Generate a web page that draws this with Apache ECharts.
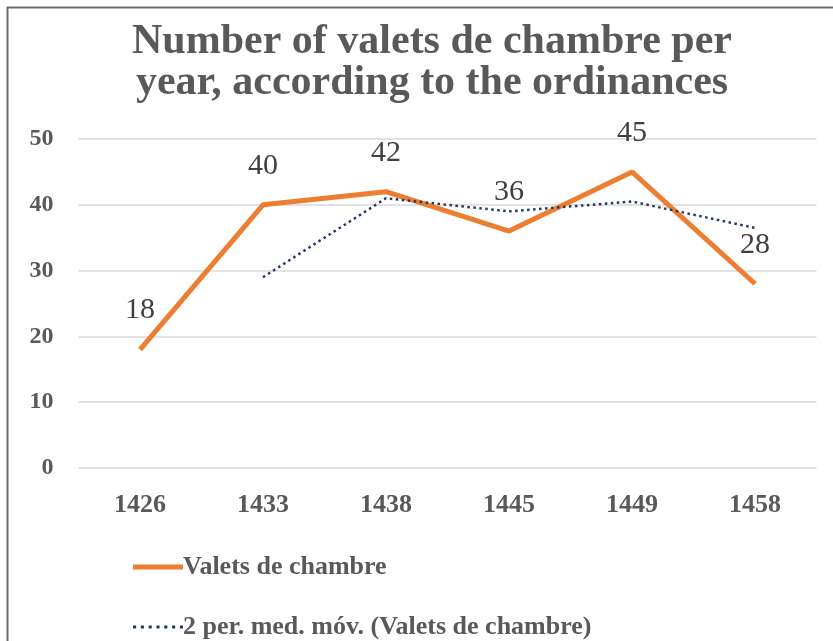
<!DOCTYPE html>
<html>
<head>
<meta charset="utf-8">
<script src="https://cdn.jsdelivr.net/npm/echarts@6/dist/echarts.min.js"></script>
<style>html,body{margin:0;padding:0;background:#fff}#c{width:833px;height:641px}</style>
</head>
<body>
<div id="c"></div>
<script>
const years = ['1426', '1433', '1438', '1445', '1449', '1458'];
const valets = [18, 40, 42, 36, 45, 28];
const movingAvg = [null, 29, 41, 39, 40.5, 36.5];
const yTicks = [0, 10, 20, 30, 40, 50];

const serif = '"Liberation Serif", "DejaVu Serif", serif';
let dots = '';
for (let i = 0; i < 7; i++) dots += 'M' + (i * 7.5) + ',0h3v3h-3z ';
const legendBase = {
  left: 133,
  padding: 0,
  itemWidth: 50,
  itemHeight: 20,
  textStyle: {fontFamily: serif, fontWeight: 'bold', fontSize: 26, lineHeight: 26, color: '#595959', padding: [0, 0, 0, -5]}
};
const chart = echarts.init(document.getElementById('c'));
chart.setOption({
  animation: false,
  backgroundColor: '#fff',
  title: {
    text: 'Number of valets de chambre per\nyear, according to the ordinances',
    left: 427,
    textAlign: 'center',
    top: 17,
    textStyle: {fontFamily: serif, fontWeight: 'bold', fontSize: 42, color: '#595959', lineHeight: 41}
  },
  graphic: [
    {type: 'line', shape: {x1: 7, y1: 7.5, x2: 833, y2: 7.5}, style: {stroke: '#6b6b6b', lineWidth: 2}},
    {type: 'line', shape: {x1: 7.5, y1: 7, x2: 7.5, y2: 641}, style: {stroke: '#6b6b6b', lineWidth: 2}}
  ],
  legend: [
    Object.assign({}, legendBase, {
      top: 554,
      data: [{name: 'Valets de chambre', icon: 'path://M0,0h50v5h-50z', itemStyle: {color: '#ED7D31'}}]
    }),
    Object.assign({}, legendBase, {
      top: 614,
      data: [{name: '2 per. med. móv. (Valets de chambre)', icon: 'path://' + dots, itemStyle: {color: '#203864'}}]
    })
  ],
  grid: {left: 78.5, right: 16.5, top: 139, bottom: 173, containLabel: false},
  xAxis: {
    type: 'category',
    data: years,
    boundaryGap: true,
    axisLine: {show: false},
    axisTick: {show: false},
    axisLabel: {fontFamily: serif, fontWeight: 'bold', fontSize: 26, color: '#595959', margin: 24}
  },
  yAxis: {
    type: 'value',
    min: yTicks[0],
    max: yTicks[yTicks.length - 1],
    interval: 10,
    axisLine: {show: false},
    axisTick: {show: false},
    splitLine: {lineStyle: {color: '#d9d9d9', width: 1.5}},
    axisLabel: {fontFamily: serif, fontWeight: 'bold', fontSize: 24, color: '#595959', margin: 25}
  },
  series: [
    {
      name: 'Valets de chambre',
      type: 'line',
      data: valets,
      symbol: 'circle',
      symbolSize: 0,
      showSymbol: true,
      lineStyle: {color: '#ED7D31', width: 5},
      itemStyle: {color: '#ED7D31'},
      label: {show: true, position: 'top', distance: 24, fontFamily: serif, fontSize: 30, color: '#404040'},
      z: 2
    },
    {
      name: '2 per. med. móv. (Valets de chambre)',
      type: 'line',
      data: movingAvg,
      symbol: 'none',
      connectNulls: false,
      lineStyle: {color: '#203864', width: 2.5, type: [2.5, 3.5]},
      itemStyle: {color: '#203864'},
      z: 3
    }
  ]
});
</script>
</body>
</html>
